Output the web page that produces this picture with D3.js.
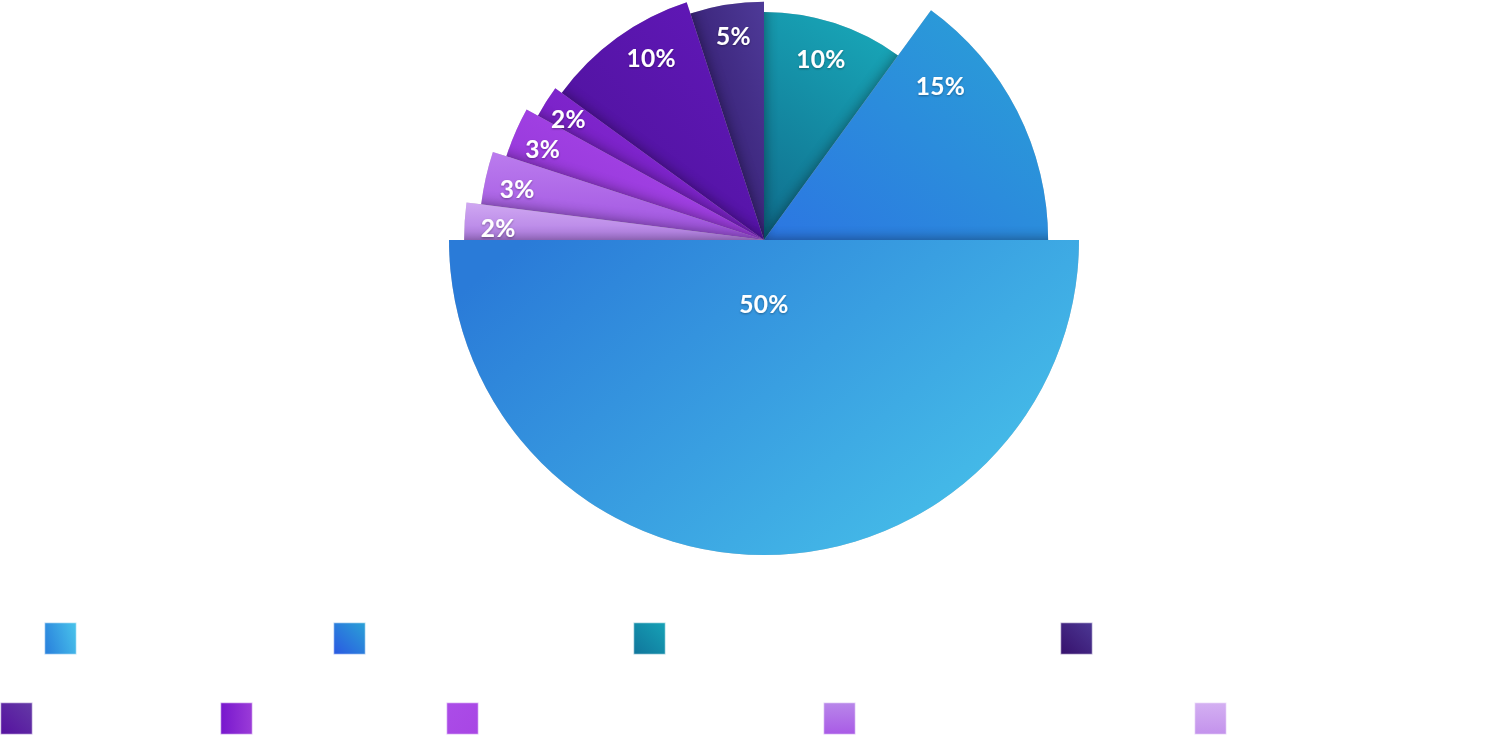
<!DOCTYPE html>
<html><head><meta charset="utf-8">
<script src="https://cdn.jsdelivr.net/npm/d3@7"></script>
<style>html,body{margin:0;padding:0;background:#fff;overflow:hidden}</style>
</head><body><svg id="chart" width="1500" height="735"></svg>
<script>
// ---- data ----
const categories = ["Slice A","Slice B","Slice C","Slice D","Slice E","Slice F","Slice G","Slice H","Slice I"];
const values = [50, 15, 10, 5, 10, 2, 3, 3, 2];
const sizeValues = [100, 90.2, 72.4, 75.6, 79.4, 81.9, 86.0, 90.5, 95.2];
const valueLabels = values.map(v => v + "%");

// ---- styling ----
const sliceGrad = [
  [[0,0.2,1,0.8], "#2a7bd8", "#48c3ea"],
  [[1,0,0,1], "#2aa2d6", "#2c76e2"],
  [[0.6,0,0.2,1], "#18a4b6", "#10708f"],
  [[1,0,0,1], "#4e3a98", "#2c1463"],
  [[1,0,0,1], "#6318bb", "#4c1299"],
  [[1,0,0,1], "#8c2bd9", "#6e1cbc"],
  [[1,0,0,1], "#ae4aee", "#8f33d4"],
  [[0.5,0,0.5,1], "#bb7cee", "#a052e0"],
  [[0.5,0,0.5,1], "#d0a8f2", "#b27ee4"]
];
const legendGrad = [
  [[0,0.6,1,0.3], "#2b84dd", "#47c0ea"],
  [[0,1,1,0], "#2a58e2", "#2aa2d6"],
  [[0,1,1,0], "#10759b", "#16a2b6"],
  [[0,1,1,0], "#36106c", "#4c3894"],
  [[0,1,1,0], "#55109f", "#643aa6"],
  [[0,0.5,1,0.5], "#7716cd", "#9b3cd8"],
  [[0,0,1,1], "#ab4ce8", "#a846e4"],
  [[0.5,0,0.5,1], "#b887ea", "#a95ae6"],
  [[0.5,0,0.5,1], "#d4b0f2", "#c392ec"]
];
const labelT = [0.5, 0.763, 0.517, 0.47, 0.383, 0.57, 0.58, 0.574, 0.625];
const labelR = [0.2, 0.825, 0.836, 0.87, 0.857, 0.893, 0.884, 0.884, 0.887];
const drawOrder = [2, 1, 3, 4, 5, 6, 7, 8, 0];
const legendLayout = [
  {y: 622, xs: [44, 333, 633, 1060]},
  {y: 702, xs: [0, 220, 446, 823, 1194]}
];

const cx = 764, cy = 240, maxR = 315;
const svg = d3.select("#chart");
const defs = svg.append("defs");

function addGrad(id, g) {
  const lg = defs.append("linearGradient").attr("id", id)
    .attr("x1", g[0][0]).attr("y1", g[0][1]).attr("x2", g[0][2]).attr("y2", g[0][3]);
  lg.append("stop").attr("offset", 0).attr("stop-color", g[1]);
  lg.append("stop").attr("offset", 1).attr("stop-color", g[2]);
}
sliceGrad.forEach((g, i) => addGrad("sg" + i, g));
legendGrad.forEach((g, i) => addGrad("lg" + i, g));

const blur = defs.append("filter").attr("id", "shadowBlur")
  .attr("x", "-30%").attr("y", "-30%").attr("width", "160%").attr("height", "160%");
blur.append("feGaussianBlur").attr("stdDeviation", 7);

const tshadow = defs.append("filter").attr("id", "textShadow")
  .attr("x", "-20%").attr("y", "-20%").attr("width", "140%").attr("height", "140%");
tshadow.append("feDropShadow").attr("dx", 0).attr("dy", 1).attr("stdDeviation", 1)
  .attr("flood-color", "#000").attr("flood-opacity", 0.35);

const rScale = d3.scaleLinear().domain([0, 100]).range([0, maxR]);
const pie = d3.pie().sort(null).value(d => d)
  .startAngle(3 * Math.PI / 2).endAngle(-Math.PI / 2);
const arcs = pie(values);
const arcGen = d3.arc().innerRadius(0).outerRadius(d => rScale(sizeValues[d.index]));

const clip = defs.append("clipPath").attr("id", "pieClip");
arcs.forEach(a => clip.append("path").attr("d", arcGen(a)).attr("transform", `translate(${cx},${cy})`));

const g = svg.append("g");
drawOrder.forEach(i => {
  const a = arcs[i];
  g.append("g").attr("clip-path", "url(#pieClip)")
    .append("path").attr("d", arcGen(a)).attr("transform", `translate(${cx},${cy})`)
    .attr("fill", "#000").attr("opacity", 0.45).attr("filter", "url(#shadowBlur)");
  g.append("path").attr("d", arcGen(a)).attr("transform", `translate(${cx},${cy})`)
    .attr("fill", `url(#sg${i})`);
});

// labels
arcs.forEach(a => {
  const i = a.index;
  const ang = a.startAngle + labelT[i] * (a.endAngle - a.startAngle);
  const r = labelR[i] * rScale(sizeValues[i]);
  svg.append("text")
    .attr("x", cx + r * Math.sin(ang)).attr("y", cy - r * Math.cos(ang))
    .attr("text-anchor", "middle").attr("dominant-baseline", "central")
    .attr("fill", "#fff").attr("font-family", "Lato, 'Open Sans', sans-serif")
    .attr("font-weight", 700).attr("font-size", 24.5)
    .attr("letter-spacing", 0.3)
    .attr("filter", "url(#textShadow)")
    .text(valueLabels[i]);
});

// legend
let k = 0;
legendLayout.forEach(row => {
  row.xs.forEach(x => {
    svg.append("rect").attr("x", x + 0.5).attr("y", row.y + 0.5)
      .attr("width", 32).attr("height", 32)
      .attr("fill", `url(#lg${k})`)
      .attr("stroke", "rgba(255,255,255,0.65)").attr("stroke-width", 1.5);
    k++;
  });
});
</script></body></html>
